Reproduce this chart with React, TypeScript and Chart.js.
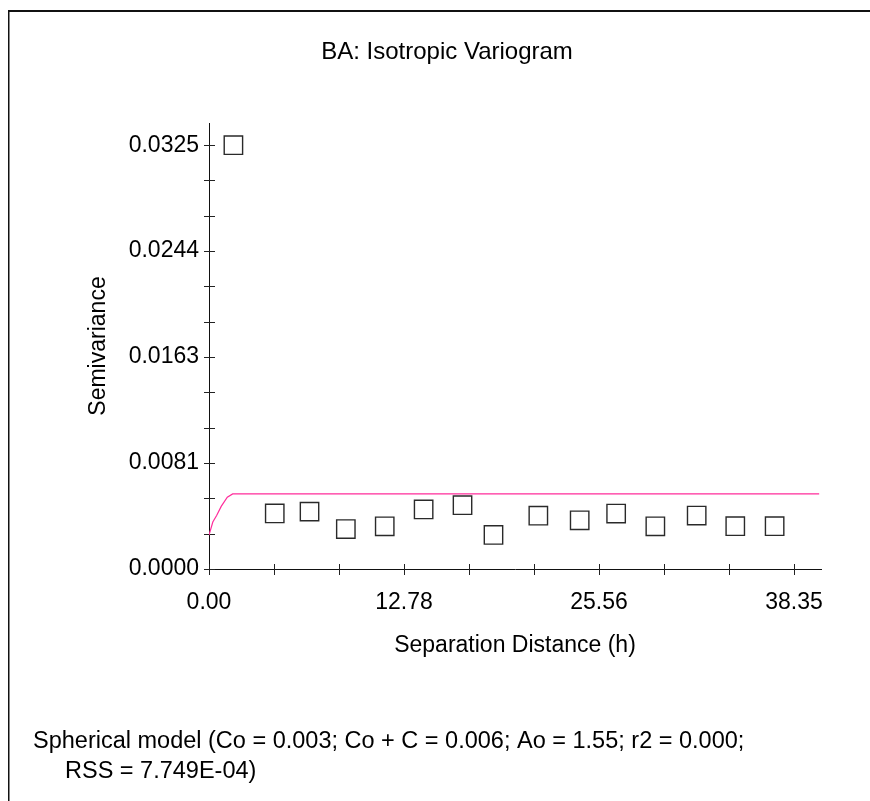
import React, { useEffect, useRef } from 'react';
import { Chart, registerables } from 'chart.js';

Chart.register(...registerables);

const chartTitle = 'BA: Isotropic Variogram';
const xAxisTitle = 'Separation Distance (h)';
const yAxisTitle = 'Semivariance';
const footerLines = [
  'Spherical model (Co = 0.003; Co + C = 0.006; Ao = 1.55; r2 = 0.000;',
  'RSS = 7.749E-04)',
];

// Observed semivariance (squares)
const lagDistance = [1.6, 4.31, 6.59, 8.97, 11.52, 14.07, 16.62, 18.65, 21.59, 24.3, 26.69, 29.26, 31.97, 34.5, 37.08];
const semivariance = [0.0325, 0.00426, 0.0044, 0.00306, 0.00327, 0.00457, 0.00489, 0.00261, 0.00409, 0.00373, 0.00425, 0.00327, 0.0041, 0.00328, 0.00328];

// Fitted spherical model (line)
const modelDistance = [0, 0.25, 0.5, 0.8, 1.2, 1.55, 40.0];
const modelSemivariance = [0.0026, 0.0036, 0.0041, 0.0048, 0.0055, 0.00576, 0.00576];

const xMajorTicks = [0, 12.7833, 25.5667, 38.35];
const xTickLabels = ['0.00', '12.78', '25.56', '38.35'];
const yMajorTicks = [0, 0.008125, 0.01625, 0.024375, 0.0325];
const yTickLabels = ['0.0000', '0.0081', '0.0163', '0.0244', '0.0325'];
const minorPerMajor = 3;
const xMax = 40.12;
const yMax = 0.0342;

const FONT = '"Liberation Sans", Arial, sans-serif';

function subdivide(majors: number[], n: number) {
  const out: { value: number }[] = [];
  for (let i = 0; i < majors.length - 1; i++) {
    for (let k = 0; k < n; k++) {
      out.push({ value: majors[i] + ((majors[i + 1] - majors[i]) * k) / n });
    }
  }
  out.push({ value: majors[majors.length - 1] });
  return out;
}

function labelFor(majors: number[], labels: string[], v: number) {
  const i = majors.findIndex((m) => Math.abs(m - v) < 1e-9 * Math.max(1, Math.abs(m)) + 1e-12);
  return i >= 0 ? labels[i] : '';
}

const crossTicks = {
  id: 'crossTicks',
  beforeDatasetsDraw(chart: any) {
    const { ctx, scales, chartArea } = chart;
    const x = scales.x;
    const y = scales.y;
    ctx.save();
    ctx.strokeStyle = '#222';
    ctx.lineWidth = 1;
    ctx.beginPath();
    for (const t of x.ticks) {
      const px = Math.round(x.getPixelForValue(t.value)) + 0.5;
      ctx.moveTo(px, chartArea.bottom - 5);
      ctx.lineTo(px, chartArea.bottom + 6);
    }
    for (const t of y.ticks) {
      const py = Math.round(y.getPixelForValue(t.value)) + 0.5;
      ctx.moveTo(chartArea.left - 5, py);
      ctx.lineTo(chartArea.left + 6, py);
    }
    ctx.stroke();
    ctx.restore();
  },
};

const frameAndText = {
  id: 'frameAndText',
  afterDraw(chart: any) {
    const { ctx } = chart;
    ctx.save();
    ctx.fillStyle = '#111';
    ctx.fillRect(8, 10, 862, 2);
    ctx.fillRect(8, 10, 1.5, 791);
    ctx.fillStyle = '#000';
    ctx.textBaseline = 'alphabetic';
    ctx.font = `24px ${FONT}`;
    ctx.textAlign = 'center';
    ctx.fillText(chartTitle, 447, 59);
    ctx.font = `23.5px ${FONT}`;
    ctx.textAlign = 'left';
    ctx.fillText(footerLines[0], 33, 748);
    ctx.fillText(footerLines[1], 65, 778);
    ctx.restore();
  },
};

export default function App() {
  const ref = useRef<HTMLCanvasElement | null>(null);

  useEffect(() => {
    if (!ref.current) return;
    const chart = new Chart(ref.current, {
      type: 'scatter',
      data: {
        datasets: [
          {
            label: 'Spherical model',
            data: modelDistance.map((d, i) => ({ x: d, y: modelSemivariance[i] })),
            showLine: true,
            borderColor: '#ff2d9b',
            borderWidth: 1.2,
            pointRadius: 0,
            tension: 0,
            order: 2,
          },
          {
            label: 'Semivariance',
            data: lagDistance.map((d, i) => ({ x: d, y: semivariance[i] })),
            pointStyle: 'rect',
            pointRadius: 13,
            pointBackgroundColor: 'rgba(255,255,255,0)',
            pointBorderColor: '#2a2a2a',
            pointBorderWidth: 1.4,
            showLine: false,
            order: 1,
          },
        ],
      },
      options: {
        responsive: false,
        animation: false,
        layout: { padding: { top: 123, right: 49, bottom: 0, left: 0 } },
        plugins: {
          legend: { display: false },
          tooltip: { enabled: false },
          title: { display: false },
        },
        scales: {
          x: {
            type: 'linear',
            min: 0,
            max: xMax,
            afterBuildTicks: (scale: any) => {
              scale.ticks = subdivide(xMajorTicks, minorPerMajor);
            },
            afterFit: (scale: any) => {
              scale.height = 232;
            },
            grid: { display: false, drawTicks: false },
            border: { display: true, color: '#111', width: 1 },
            ticks: {
              autoSkip: false,
              maxRotation: 0,
              padding: 20,
              color: '#000',
              font: { family: FONT, size: 23 },
              callback: (v: any) => labelFor(xMajorTicks, xTickLabels, Number(v)),
            },
            title: {
              display: true,
              text: xAxisTitle,
              color: '#000',
              font: { family: FONT, size: 23 },
              padding: { top: 0, bottom: 142 },
            },
          },
          y: {
            type: 'linear',
            min: 0,
            max: yMax,
            afterBuildTicks: (scale: any) => {
              scale.ticks = subdivide(yMajorTicks, minorPerMajor);
            },
            afterFit: (scale: any) => {
              scale.width = 209;
            },
            grid: { display: false, drawTicks: false },
            border: { display: true, color: '#111', width: 1 },
            ticks: {
              autoSkip: false,
              padding: 10,
              color: '#000',
              font: { family: FONT, size: 23 },
              callback: (v: any) => labelFor(yMajorTicks, yTickLabels, Number(v)),
            },
            title: {
              display: true,
              text: yAxisTitle,
              color: '#000',
              font: { family: FONT, size: 23 },
              padding: { top: 85, bottom: 0 },
            },
          },
        },
      },
      plugins: [crossTicks, frameAndText],
    });
    return () => chart.destroy();
  }, []);

  return (
    <div style={{ position: 'absolute', left: 0, top: 0, width: 870, height: 801, background: '#fff' }}>
      <canvas ref={ref} width={870} height={801} style={{ display: 'block', width: 870, height: 801 }} />
    </div>
  );
}
